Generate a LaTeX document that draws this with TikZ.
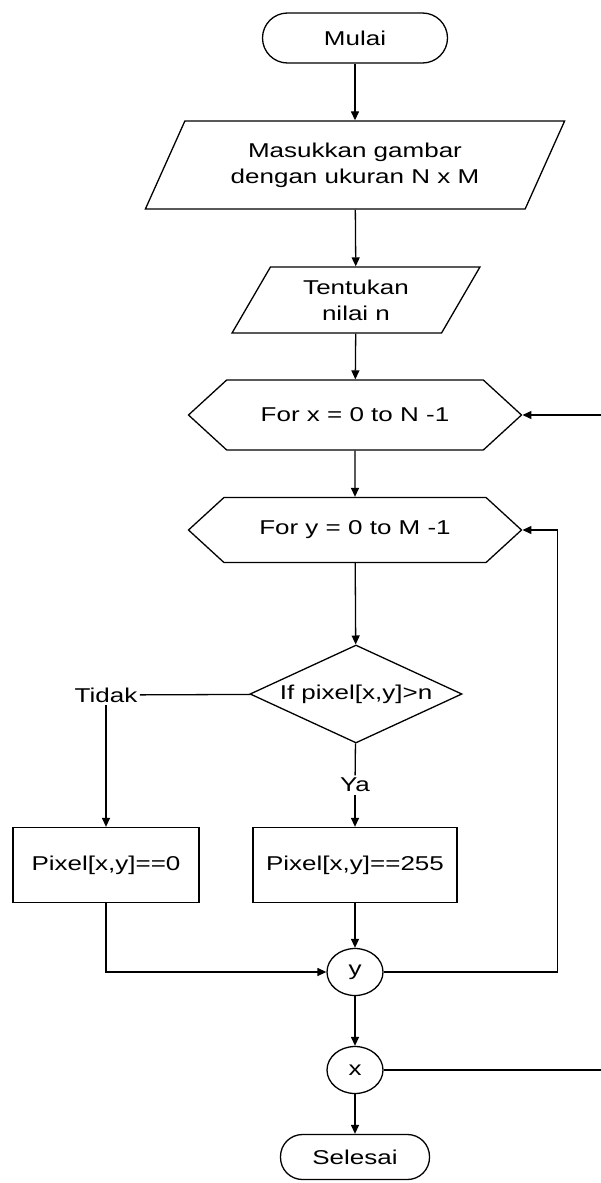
\documentclass[tikz,border=0pt]{standalone}
\usepackage{fontspec}
\setmainfont{Liberation Sans}[FakeStretch=1.3]
\usepackage{tikz}
\usetikzlibrary{shapes.geometric, shapes.symbols, arrows.meta}
\tikzstyle{startstop} = [rectangle, minimum height=50pt, text centered, draw=black]
\tikzstyle{io} = [trapezium, trapezium left angle=60, trapezium right angle=120, trapezium stretches=true, text centered, align=center, draw=black]
\tikzstyle{loopbox} = [signal, signal to=west and east, signal pointer angle=85, minimum width=333pt, minimum height=68pt, text centered, draw=black]
\tikzstyle{process} = [rectangle, minimum height=75pt, text centered, draw=black]
\tikzstyle{decision} = [diamond, aspect=2.16, minimum width=212pt, minimum height=98pt, inner sep=0pt, text centered, draw=black]
\tikzstyle{connector} = [ellipse, minimum width=56pt, minimum height=47pt, inner sep=0pt, draw=black]
\tikzstyle{label} = [inner sep=2pt]
\tikzstyle{arrow} = [->,>={Triangle[length=9pt,width=8pt]}]

\begin{document}
\begin{tikzpicture}[x=1pt, y=-1pt, line width=1.3pt, font=\fontsize{20}{26}\selectfont]
        \clip (0,0) rectangle (601,1183);
        % Nodes
        \node (start) [startstop, minimum width=185pt, rounded corners=25pt] at (355,38) {Mulai};
        \node (input) [io, minimum width=420pt, minimum height=88pt] at (355,165) {Masukkan gambar\\dengan ukuran N x M};
        \node (nval) [io, minimum width=248pt, minimum height=66pt, trapezium left angle=62, trapezium right angle=118] at (356,300) {Tentukan\\nilai n};
        \node (forx) [loopbox, minimum height=70pt] at (355,415) {For x = 0 to N -1};
        \node (fory) [loopbox, minimum height=65pt] at (355,530) {For y = 0 to M -1};
        \node (dec1) [decision] at (356,694) {If pixel[x,y]>n};
        \node (tidak) [label] at (106,695) {Tidak};
        \node (ya) [label] at (355,785) {Ya};
        \node (black) [process, minimum width=186pt] at (106,865) {Pixel[x,y]==0};
        \node (white) [process, minimum width=204pt] at (355,865) {Pixel[x,y]==255};
        \node (nexty) [connector] at (355,972) {y};
        \node (nextx) [connector] at (355,1070) {x};
        \node (stop) [startstop, minimum width=149pt, minimum height=45pt, rounded corners=22pt] at (355,1157) {Selesai};

        % Arrows
        \draw [arrow] (start) -- (input);
        \draw [arrow] (input) -- (nval);
        \draw [arrow] (nval) -- (forx);
        \draw [arrow] (forx) -- (fory);
        \draw [arrow] (fory) -- (dec1);

        \draw (dec1) -- (tidak);
        \draw [arrow] (tidak) -- (black);
        \draw (dec1) -- (ya);
        \draw [arrow] (ya) -- (white);

        \draw [arrow] (white) -- (nexty);
        \draw [arrow] (black) |- (nexty);
        \draw [arrow] (nexty) -- (nextx);
        \draw [arrow] (nextx) -- (stop);

        % loop back paths
        \draw [arrow] (nexty.east) -- ++(174,0) |- (fory.east);
        \draw [arrow] (nextx.east) -- ++(260,0) |- (forx.east);
    \end{tikzpicture}
\end{document}
